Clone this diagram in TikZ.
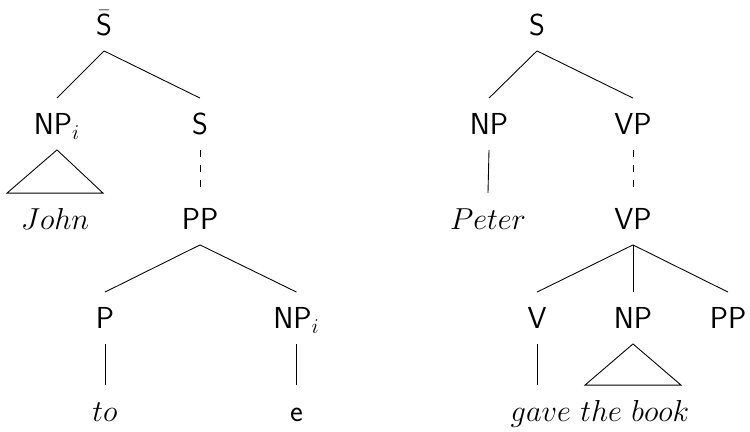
\documentclass[tikz,border=0pt]{standalone}
\usepackage{tikz}
\usetikzlibrary{calc}
\usepackage{amsmath, amssymb}

\tikzset{
	cat/.style = {font=\LARGE\sffamily, text height=12pt, text depth=0pt, inner ysep=8.5pt},
	dashline/.style = {dash pattern=on 4pt off 4.5pt}
}

\begin{document}
\begin{tikzpicture}[line width=0.5pt]
		\useasboundingbox (0,0) rectangle (15,-8.64);
		% left tree
		\node[cat] at (2.08,-0.5)  (sbar) {$\bar{\mathsf{S}}$};
		\node[cat] at (1.14,-2.48) (npi) {NP$_i$};
		\node[cat] at (4.0,-2.48)  (s) {S};
		\node[cat] at (1.1,-4.38)  (john) {$John$};
		\node[cat] at (4.0,-4.38)  (pp) {PP};
		\node[cat] at (2.1,-6.36)  (p) {P};
		\node[cat] at (5.93,-6.36) (npj) {NP$_i$};
		\node[cat] at (2.1,-8.22)  (to) {$to$};
		\node[cat] at (5.93,-8.22) (e) {e};
		\draw (sbar.south) -- (npi.north);
		\draw (sbar.south) -- (s.north);
		\draw (npi.south) -- ($(john.north)+(-0.96,0)$) -- ($(john.north)+(0.96,0)$) -- cycle;
		\draw[dashline] (s.south) -- (pp.north);
		\draw (pp.south) -- (p.north);
		\draw (pp.south) -- (npj.north);
		\draw (p.south) -- (to.north);
		\draw (npj.south) -- (e.north);
		% right tree
		\node[cat] at (10.74,-0.5)  (s2) {S};
		\node[cat] at (9.78,-2.48)  (np) {NP};
		\node[cat] at (12.66,-2.48) (vp) {VP};
		\node[cat] at (9.76,-4.38)  (peter) {$Peter$};
		\node[cat] at (12.66,-4.38) (vp2) {VP};
		\node[cat] at (10.74,-6.36) (v) {V};
		\node[cat] at (12.66,-6.36) (np2) {NP};
		\node[cat] at (14.56,-6.36) (pp2) {PP};
		\node[cat] at (12.0,-8.22)  (book) {$gave\ the\ book$};
		\draw (s2.south) -- (np.north);
		\draw (s2.south) -- (vp.north);
		\draw (np.south) -- (peter.north);
		\draw[dashline] (vp.south) -- (vp2.north);
		\draw (vp2.south) -- (v.north);
		\draw (vp2.south) -- (np2.north);
		\draw (vp2.south) -- (pp2.north);
		\draw (v.south) -- (v.south |- book.north);
		\draw (np2.south) -- ($(np2.south |- book.north)+(-0.96,0)$) -- ($(np2.south |- book.north)+(0.96,0)$) -- cycle;
		\end{tikzpicture}
\end{document}
